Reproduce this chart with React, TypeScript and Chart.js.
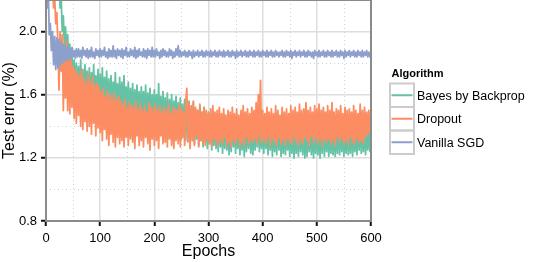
import React, { useEffect, useRef } from "react";
import { Chart, registerables } from "chart.js";

Chart.register(...registerables);

// ---------- data: test error (%) in hundredths, one value every 2 epochs (epochs 0..600) ----------
const epochStep = 2;

const vanillaSGD = [
  260, 215, 232, 198, 205, 188, 200, 179, 197, 176,
  196, 177, 195, 178, 193, 180, 192, 181, 191, 182,
  190, 182, 189, 183, 190, 184, 188, 183, 189, 184,
  189, 184, 188, 183, 190, 185, 188, 184, 189, 183,
  188, 184, 190, 184, 187, 183, 189, 185, 188, 184,
  189, 184, 188, 185, 190, 184, 187, 183, 189, 184,
  188, 184, 191, 184, 188, 183, 189, 185, 188, 184,
  189, 183, 188, 185, 190, 184, 187, 184, 189, 185,
  188, 184, 190, 183, 188, 184, 189, 185, 187, 184,
  189, 184, 188, 183, 189, 185, 188, 184, 190, 184,
  188, 184, 189, 185, 187, 183, 188, 184, 189, 185,
  188, 184, 187, 184, 189, 185, 188, 183, 187, 184,
  189, 185, 191, 184, 188, 184, 187, 185, 188, 184,
  187, 184, 188, 185, 187, 183, 188, 184, 187, 185,
  188, 184, 187, 185, 188, 184, 187, 184, 188, 185,
  187, 184, 188, 184, 187, 185, 188, 184, 187, 184,
  188, 185, 187, 184, 188, 184, 187, 185, 188, 184,
  187, 184, 188, 185, 187, 183, 188, 184, 187, 185,
  188, 184, 187, 185, 188, 184, 187, 184, 188, 185,
  187, 184, 188, 184, 187, 185, 188, 184, 187, 184,
  188, 185, 187, 184, 188, 184, 187, 185, 188, 184,
  187, 184, 188, 185, 187, 184, 187, 185, 188, 184,
  187, 184, 188, 185, 187, 184, 188, 183, 187, 185,
  188, 184, 187, 185, 188, 184, 187, 185, 188, 184,
  187, 184, 188, 185, 187, 184, 187, 183, 188, 185,
  187, 184, 188, 184, 187, 185, 188, 184, 187, 184,
  188, 185, 187, 184, 188, 184, 187, 185, 188, 184,
  187, 184, 188, 185, 187, 183, 188, 184, 187, 185,
  188, 184, 187, 185, 188, 184, 187, 184, 188, 185,
  187, 184, 188, 184, 187, 185, 188, 184, 187, 184,
  187,
];

const dropout = [
  300, 290, 280, 265, 250, 240, 228, 215, 222, 205,
  212, 192, 163, 200, 175, 198, 150, 190, 158, 194,
  150, 186, 148, 182, 152, 178, 145, 176, 142, 174,
  147, 172, 140, 176, 138, 170, 143, 168, 137, 173,
  140, 168, 135, 171, 142, 166, 134, 167, 139, 165,
  136, 162, 131, 164, 138, 159, 132, 162, 128, 160,
  135, 158, 130, 161, 127, 157, 133, 159, 129, 156,
  131, 154, 127, 157, 133, 152, 128, 155, 132, 153,
  130, 152, 126, 156, 134, 151, 128, 154, 131, 150,
  127, 153, 133, 149, 129, 155, 125, 152, 132, 151,
  128, 154, 131, 150, 126, 153, 134, 149, 129, 152,
  130, 150, 127, 154, 132, 148, 128, 152, 126, 151,
  131, 150, 129, 154, 127, 151, 133, 149, 128, 155,
  164, 130, 155, 126, 153, 131, 156, 128, 152, 134,
  150, 127, 154, 131, 149, 129, 152, 128, 150, 132,
  148, 129, 151, 127, 153, 132, 149, 130, 150, 128,
  152, 131, 148, 129, 151, 133, 147, 128, 150, 130,
  149, 127, 152, 131, 148, 129, 151, 132, 147, 128,
  150, 130, 153, 128, 149, 133, 151, 129, 148, 131,
  152, 130, 150, 132, 155, 129, 160, 133, 169, 130,
  150, 131, 148, 129, 152, 133, 149, 128, 151, 132,
  148, 130, 153, 128, 150, 133, 147, 129, 152, 131,
  149, 128, 151, 132, 148, 130, 153, 129, 150, 133,
  152, 130, 149, 128, 154, 131, 150, 129, 151, 133,
  155, 131, 150, 128, 152, 134, 149, 130, 153, 132,
  151, 129, 154, 132, 150, 128, 152, 131, 149, 130,
  153, 132, 150, 129, 155, 131, 149, 128, 151, 133,
  150, 130, 153, 132, 148, 129, 152, 131, 150, 128,
  151, 133, 149, 130, 153, 129, 150, 132, 148, 130,
  154, 131, 150, 129, 152, 133, 149, 135, 150, 136,
  140,
];

const bayesByBackprop = [
  320, 310, 300, 290, 280, 270, 262, 255, 248, 240,
  232, 225, 235, 215, 222, 200, 210, 190, 203, 185,
  198, 180, 192, 172, 185, 165, 182, 160, 180, 158,
  178, 157, 182, 160, 176, 155, 179, 158, 175, 153,
  177, 152, 174, 156, 179, 150, 172, 154, 176, 151,
  173, 150, 177, 148, 171, 152, 175, 147, 170, 149,
  172, 146, 168, 150, 174, 145, 167, 148, 171, 144,
  168, 146, 172, 143, 165, 147, 168, 142, 164, 145,
  167, 143, 163, 146, 166, 141, 162, 144, 165, 140,
  162, 142, 166, 139, 161, 143, 164, 140, 160, 141,
  163, 138, 160, 142, 167, 137, 159, 140, 162, 136,
  158, 139, 161, 135, 157, 138, 160, 134, 156, 137,
  159, 133, 155, 136, 158, 132, 154, 135, 157, 131,
  153, 134, 156, 130, 152, 133, 155, 129, 151, 132,
  150, 128, 153, 131, 149, 127, 152, 130, 148, 126,
  149, 129, 147, 125, 150, 128, 146, 126, 148, 124,
  147, 127, 145, 123, 148, 126, 144, 125, 146, 122,
  145, 124, 147, 127, 143, 123, 146, 126, 144, 122,
  146, 125, 144, 121, 147, 124, 143, 126, 145, 123,
  144, 122, 147, 125, 143, 127, 149, 124, 145, 126,
  146, 123, 144, 126, 142, 122, 145, 125, 143, 121,
  145, 124, 142, 122, 146, 125, 143, 121, 144, 123,
  143, 122, 145, 125, 141, 121, 144, 123, 142, 120,
  144, 123, 141, 121, 145, 124, 142, 122, 143, 120,
  142, 121, 144, 124, 140, 122, 143, 120, 141, 123,
  143, 122, 141, 120, 144, 123, 150, 121, 142, 124,
  141, 121, 143, 123, 140, 122, 144, 121, 142, 123,
  142, 122, 140, 124, 143, 121, 141, 123, 144, 122,
  141, 123, 143, 121, 142, 124, 140, 122, 143, 125,
  142, 123, 140, 124, 143, 122, 141, 125, 139, 124,
  128,
];

const seriesNames = ["Bayes by Backprop", "Dropout", "Vanilla SGD"];
const seriesColors = ["#66c2a5", "#fc8d62", "#8da0cb"];
const xTicks = [0, 100, 200, 300, 400, 500, 600];
const yTicks = [0.8, 1.2, 1.6, 2.0];
const xMinorTicks = [50, 150, 250, 350, 450, 550];
const yMinorTicks = [1.0, 1.4, 1.8];
const xRange = [0, 600];
const yRange = [0.8, 2.2];
const legendTitle = "Algorithm";
const xTitle = "Epochs";
const yTitle = "Test error (%)";

const FONT = "'Liberation Sans', Arial, Helvetica, sans-serif";
const AXIS_GRAY = "#8a8a8a";

const toPoints = (arr: number[]) => arr.map((v, i) => ({ x: i * epochStep, y: v / 100 }));

const decorPlugin = {
  id: "decor",
  beforeDatasetsDraw(chart: any) {
    const { ctx, chartArea: a, scales } = chart;
    ctx.save();
    ctx.strokeStyle = "#cfcfcf";
    ctx.lineWidth = 1;
    ctx.setLineDash([1, 3]);
    xMinorTicks.forEach((v) => {
      const px = Math.round(scales.x.getPixelForValue(v)) + 0.5;
      ctx.beginPath();
      ctx.moveTo(px, a.top);
      ctx.lineTo(px, a.bottom);
      ctx.stroke();
    });
    yMinorTicks.forEach((v) => {
      const py = Math.round(scales.y.getPixelForValue(v)) + 0.5;
      ctx.beginPath();
      ctx.moveTo(a.left, py);
      ctx.lineTo(a.right, py);
      ctx.stroke();
    });
    ctx.restore();
  },
  afterDatasetsDraw(chart: any) {
    const { ctx, chartArea: a } = chart;
    ctx.save();
    ctx.strokeStyle = AXIS_GRAY;
    ctx.lineWidth = 2;
    ctx.beginPath();
    ctx.moveTo(a.left, a.top);
    ctx.lineTo(a.left, a.bottom + 1);
    ctx.moveTo(a.left - 1, a.bottom);
    ctx.lineTo(a.right + 1, a.bottom);
    ctx.moveTo(a.right, a.top);
    ctx.lineTo(a.right, a.bottom);
    ctx.stroke();
    ctx.lineWidth = 1;
    ctx.beginPath();
    ctx.moveTo(a.left, a.top + 0.5);
    ctx.lineTo(a.right, a.top + 0.5);
    ctx.stroke();
    ctx.restore();
  },
  afterDraw(chart: any) {
    const { ctx, chartArea: a } = chart;
    ctx.save();
    ctx.fillStyle = "#000";
    ctx.font = `16px ${FONT}`;
    ctx.textAlign = "center";
    ctx.textBaseline = "alphabetic";
    ctx.save();
    ctx.translate(14, (a.top + a.bottom) / 2);
    ctx.rotate(-Math.PI / 2);
    ctx.fillText(yTitle, 0, 0);
    ctx.restore();
    ctx.fillText(xTitle, (a.left + a.right) / 2, 256);

    const lx = 390;
    ctx.textAlign = "left";
    ctx.font = `bold 11px ${FONT}`;
    ctx.fillText(legendTitle, 391.5, 77);
    const tops = [83.5, 107, 130.5];
    const h = 23.5;
    seriesNames.forEach((name, i) => {
      const top = tops[i];
      ctx.strokeStyle = "#cccccc";
      ctx.lineWidth = 2;
      ctx.strokeRect(lx, top, 24, h);
      const cy = top + h / 2;
      ctx.strokeStyle = seriesColors[i];
      ctx.lineWidth = 2;
      ctx.beginPath();
      ctx.moveTo(lx + 1.5, cy);
      ctx.lineTo(lx + 22.5, cy);
      ctx.stroke();
      ctx.fillStyle = "#000";
      ctx.font = `12.5px ${FONT}`;
      ctx.fillText(name, 417, cy + 4.6);
    });
    ctx.restore();
  },
};

export default function App() {
  const ref = useRef<HTMLCanvasElement | null>(null);

  useEffect(() => {
    if (!ref.current) return;
    Chart.defaults.font.family = FONT;
    const gridCommon = {
      color: "#dedede",
      lineWidth: 1.5,
      tickColor: "#111111",
      tickWidth: 2,
      tickLength: 5,
      drawTicks: true,
    };
    const datasetFor = (i: number, arr: number[]) => ({
      label: seriesNames[i],
      data: toPoints(arr),
      borderColor: seriesColors[i],
      backgroundColor: seriesColors[i],
      borderWidth: 1.8,
      borderJoinStyle: "round",
      borderCapStyle: "round",
      pointRadius: 0,
      pointHoverRadius: 0,
      fill: false,
      tension: 0,
      clip: 0,
    });
    const chart = new Chart(ref.current, {
      type: "line",
      data: {
        datasets: [
          datasetFor(2, vanillaSGD),
          datasetFor(1, dropout),
          datasetFor(0, bayesByBackprop),
        ],
      },
      options: {
        animation: false,
        responsive: false,
        parsing: false,
        normalized: true,
        events: [],
        layout: { padding: { left: 0, top: 0, right: 163, bottom: 0 }, autoPadding: false },
        plugins: { legend: { display: false }, tooltip: { enabled: false }, title: { display: false } },
        scales: {
          x: {
            type: "linear",
            min: xRange[0],
            max: xRange[1],
            afterBuildTicks: (s: any) => {
              s.ticks = xTicks.map((v) => ({ value: v }));
            },
            afterFit: (s: any) => {
              s.height = 41;
              s.paddingLeft = 0;
              s.paddingRight = 0;
            },
            grid: gridCommon,
            border: { display: false },
            ticks: {
              color: "#000",
              font: { size: 13 },
              padding: 5,
              maxRotation: 0,
              autoSkip: false,
              callback: (v: any) => String(v),
            },
          },
          y: {
            type: "linear",
            min: yRange[0],
            max: yRange[1],
            afterBuildTicks: (s: any) => {
              s.ticks = yTicks.map((v) => ({ value: v }));
            },
            afterFit: (s: any) => {
              s.width = 46;
              s.paddingTop = 0;
              s.paddingBottom = 0;
            },
            grid: gridCommon,
            border: { display: false },
            ticks: {
              color: "#000",
              font: { size: 13 },
              padding: 4,
              autoSkip: false,
              callback: (v: any) => Number(v).toFixed(1),
            },
          },
        },
      },
      plugins: [decorPlugin],
    } as any);
    return () => chart.destroy();
  }, []);

  return (
    <div style={{ position: "fixed", left: 0, top: 0, width: 534, height: 262, background: "#fff" }}>
      <canvas ref={ref} width={534} height={262} style={{ width: 534, height: 262, display: "block" }} />
    </div>
  );
}
